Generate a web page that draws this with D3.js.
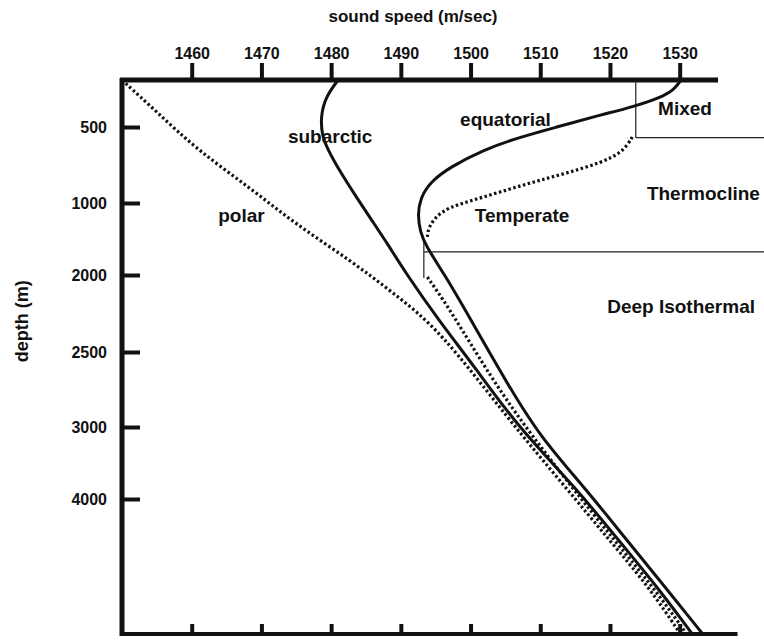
<!DOCTYPE html>
<html>
<head>
<meta charset="utf-8">
<script src="https://cdn.jsdelivr.net/npm/d3@7"></script>
<style>
  body { margin: 0; background: #fff; }
  svg text { font-family: "Liberation Sans", Arial, Helvetica, sans-serif; font-weight: bold; fill: #111; }
</style>
</head>
<body>
<svg id="chart" width="764" height="640"></svg>
<script>
// tick values
const speedTicks = [1460, 1470, 1480, 1490, 1500, 1510, 1520, 1530];
const depthTicks = [500, 1000, 2000, 2500, 3000, 4000];

// profiles: [sound speed (m/s), depth (m)]
const polar = [
  [1450, 0], [1455, 340], [1460.8, 651], [1468.4, 901], [1475, 1300], [1482.7, 1792],
  [1489, 2120], [1495.6, 2357], [1505.5, 2953], [1513.6, 3833], [1519.9, 4547],
  [1525.6, 5173], [1530.1, 5800]
];
const subarctic = [
  [1481, 0], [1479.1, 191], [1478.5, 404], [1478.7, 553], [1479.4, 638], [1481.3, 796],
  [1483.7, 967], [1486.0, 1264], [1488.2, 1583], [1490.6, 1958], [1495.4, 2292],
  [1500.6, 2600], [1506.8, 3001], [1515.0, 3833], [1521.2, 4547], [1526.8, 5173], [1531.8, 5800]
];
const equatorial = [
  [1530.2, 0], [1529.4, 80], [1528.2, 160], [1523.3, 287], [1518.6, 372], [1512.4, 500], [1506.7, 572],
  [1501.8, 651], [1497.1, 763], [1494.2, 862], [1492.8, 967], [1492.4, 1167], [1492.8, 1403],
  [1493.5, 1583], [1496.3, 2000], [1499.0, 2208], [1505.2, 2707], [1510.0, 3139],
  [1516.3, 3833], [1522.4, 4547], [1527.9, 5173], [1533.3, 5800]
];
// temperate is broken by the thermocline marker
const temperateUpper = [
  [1523.2, 566], [1521.9, 664], [1518.6, 737], [1513.8, 803], [1509.0, 862], [1504.2, 928],
  [1499.5, 993], [1497.1, 1056], [1495.2, 1167], [1493.9, 1347], [1493.8, 1486]
];
const temperateLower = [
  [1493.8, 2013], [1496.8, 2208], [1500.8, 2507], [1506.3, 2907], [1514.5, 3833],
  [1520.6, 4547], [1526.2, 5173], [1531.0, 5800]
];

// layer boundaries
const mixedLayer = { speed: 1523.7, top: 0, bottom: 570 };
const thermoclineLayer = { speed: 1493.3, top: 1500, bottom: 2020, depth: 1680 };

// text labels [text, speed, depth]
const labels = [
  ['subarctic', 1473.8, 605],
  ['equatorial', 1498.5, 489],
  ['polar', 1463.8, 1264],
  ['Temperate', 1500.6, 1264],
  ['Mixed', 1526.9, 372],
  ['Thermocline', 1525.3, 980],
  ['Deep Isothermal', 1519.6, 2247]
];

const svg = d3.select('#chart');
const W = 764;
const plotTop = 80, plotLeft = 122, plotBottom = 634;

const x = d3.scaleLinear()
  .domain([1450, 1530])
  .range([plotLeft, plotLeft + 80 * 6.971]);

// depth axis is schematic, not linear
const depthDomain = [0, ...depthTicks, 5800];
const depthStops = [0, 47, 123, 195, 272, 347, 419, plotBottom - plotTop];
const y = d3.scaleLinear()
  .domain(depthDomain)
  .range(depthStops.map(v => plotTop + v));

// axis frame
const frame = svg.append('g').attr('stroke', '#111').attr('stroke-linecap', 'butt');
frame.append('line')
  .attr('x1', x(1450) - 2).attr('x2', x(1535.5))
  .attr('y1', plotTop).attr('y2', plotTop)
  .attr('stroke-width', 5);
frame.append('line')
  .attr('x1', plotLeft).attr('x2', plotLeft)
  .attr('y1', plotTop - 2).attr('y2', plotBottom + 2)
  .attr('stroke-width', 5);
frame.append('line')
  .attr('x1', plotLeft - 2).attr('x2', x(1538.3))
  .attr('y1', plotBottom).attr('y2', plotBottom)
  .attr('stroke-width', 4);

function styleAxis(g) {
  g.select('.domain').remove();
  g.attr('font-family', null).attr('font-size', null);
  g.selectAll('.tick line').attr('stroke', '#111').attr('stroke-width', 4);
  g.selectAll('.tick text').attr('fill', '#111').style('font-size', '16px');
}

svg.append('g')
  .attr('transform', `translate(0,${plotTop})`)
  .call(d3.axisTop(x).tickValues(speedTicks).tickSize(17).tickPadding(4).tickFormat(d3.format('d')))
  .call(styleAxis);

svg.append('g')
  .attr('transform', `translate(0,${plotBottom})`)
  .call(d3.axisBottom(x).tickValues(speedTicks).tickSize(-10).tickFormat(''))
  .call(styleAxis);

svg.append('g')
  .attr('transform', `translate(${plotLeft},0)`)
  .call(d3.axisLeft(y).tickValues(depthTicks).tickSize(-18).tickPadding(15).tickFormat(d3.format('d')))
  .call(styleAxis);

// axis titles
svg.append('text')
  .attr('x', 413).attr('y', 22)
  .attr('text-anchor', 'middle')
  .style('font-size', '17px')
  .text('sound speed (m/sec)');

svg.append('text')
  .attr('transform', `translate(28,${y(2300)}) rotate(-90)`)
  .attr('text-anchor', 'middle')
  .style('font-size', '18px')
  .text('depth (m)');

// layer boundary lines (thin)
const thin = svg.append('g').attr('stroke', '#222').attr('stroke-width', 1.2);
thin.append('line')
  .attr('x1', x(mixedLayer.speed)).attr('x2', x(mixedLayer.speed))
  .attr('y1', y(mixedLayer.top)).attr('y2', y(mixedLayer.bottom));
thin.append('line')
  .attr('x1', x(mixedLayer.speed)).attr('x2', W)
  .attr('y1', y(mixedLayer.bottom)).attr('y2', y(mixedLayer.bottom));
thin.append('line')
  .attr('x1', x(thermoclineLayer.speed)).attr('x2', x(thermoclineLayer.speed))
  .attr('y1', y(thermoclineLayer.top)).attr('y2', y(thermoclineLayer.bottom));
thin.append('line')
  .attr('x1', x(thermoclineLayer.speed)).attr('x2', W)
  .attr('y1', y(thermoclineLayer.depth)).attr('y2', y(thermoclineLayer.depth));

// profiles, smoothed like the hand drawn original
const line = d3.line()
  .x(d => x(d[0]))
  .y(d => y(d[1]))
  .curve(d3.curveBasis);

const profiles = [
  { data: polar, dotted: true },
  { data: subarctic, dotted: false },
  { data: equatorial, dotted: false },
  { data: temperateUpper, dotted: true },
  { data: temperateLower, dotted: true }
];

svg.append('g')
  .selectAll('path')
  .data(profiles)
  .enter()
  .append('path')
  .attr('d', d => line(d.data))
  .attr('fill', 'none')
  .attr('stroke', '#111')
  .attr('stroke-width', d => d.dotted ? 3.2 : 3)
  .attr('stroke-dasharray', d => d.dotted ? '2.5,2.5' : null)
  .attr('stroke-linejoin', 'round');

// labels
svg.append('g')
  .selectAll('text')
  .data(labels)
  .enter()
  .append('text')
  .attr('x', d => x(d[1]))
  .attr('y', d => y(d[2]))
  .style('font-size', '19px')
  .text(d => d[0]);
</script>
</body>
</html>
